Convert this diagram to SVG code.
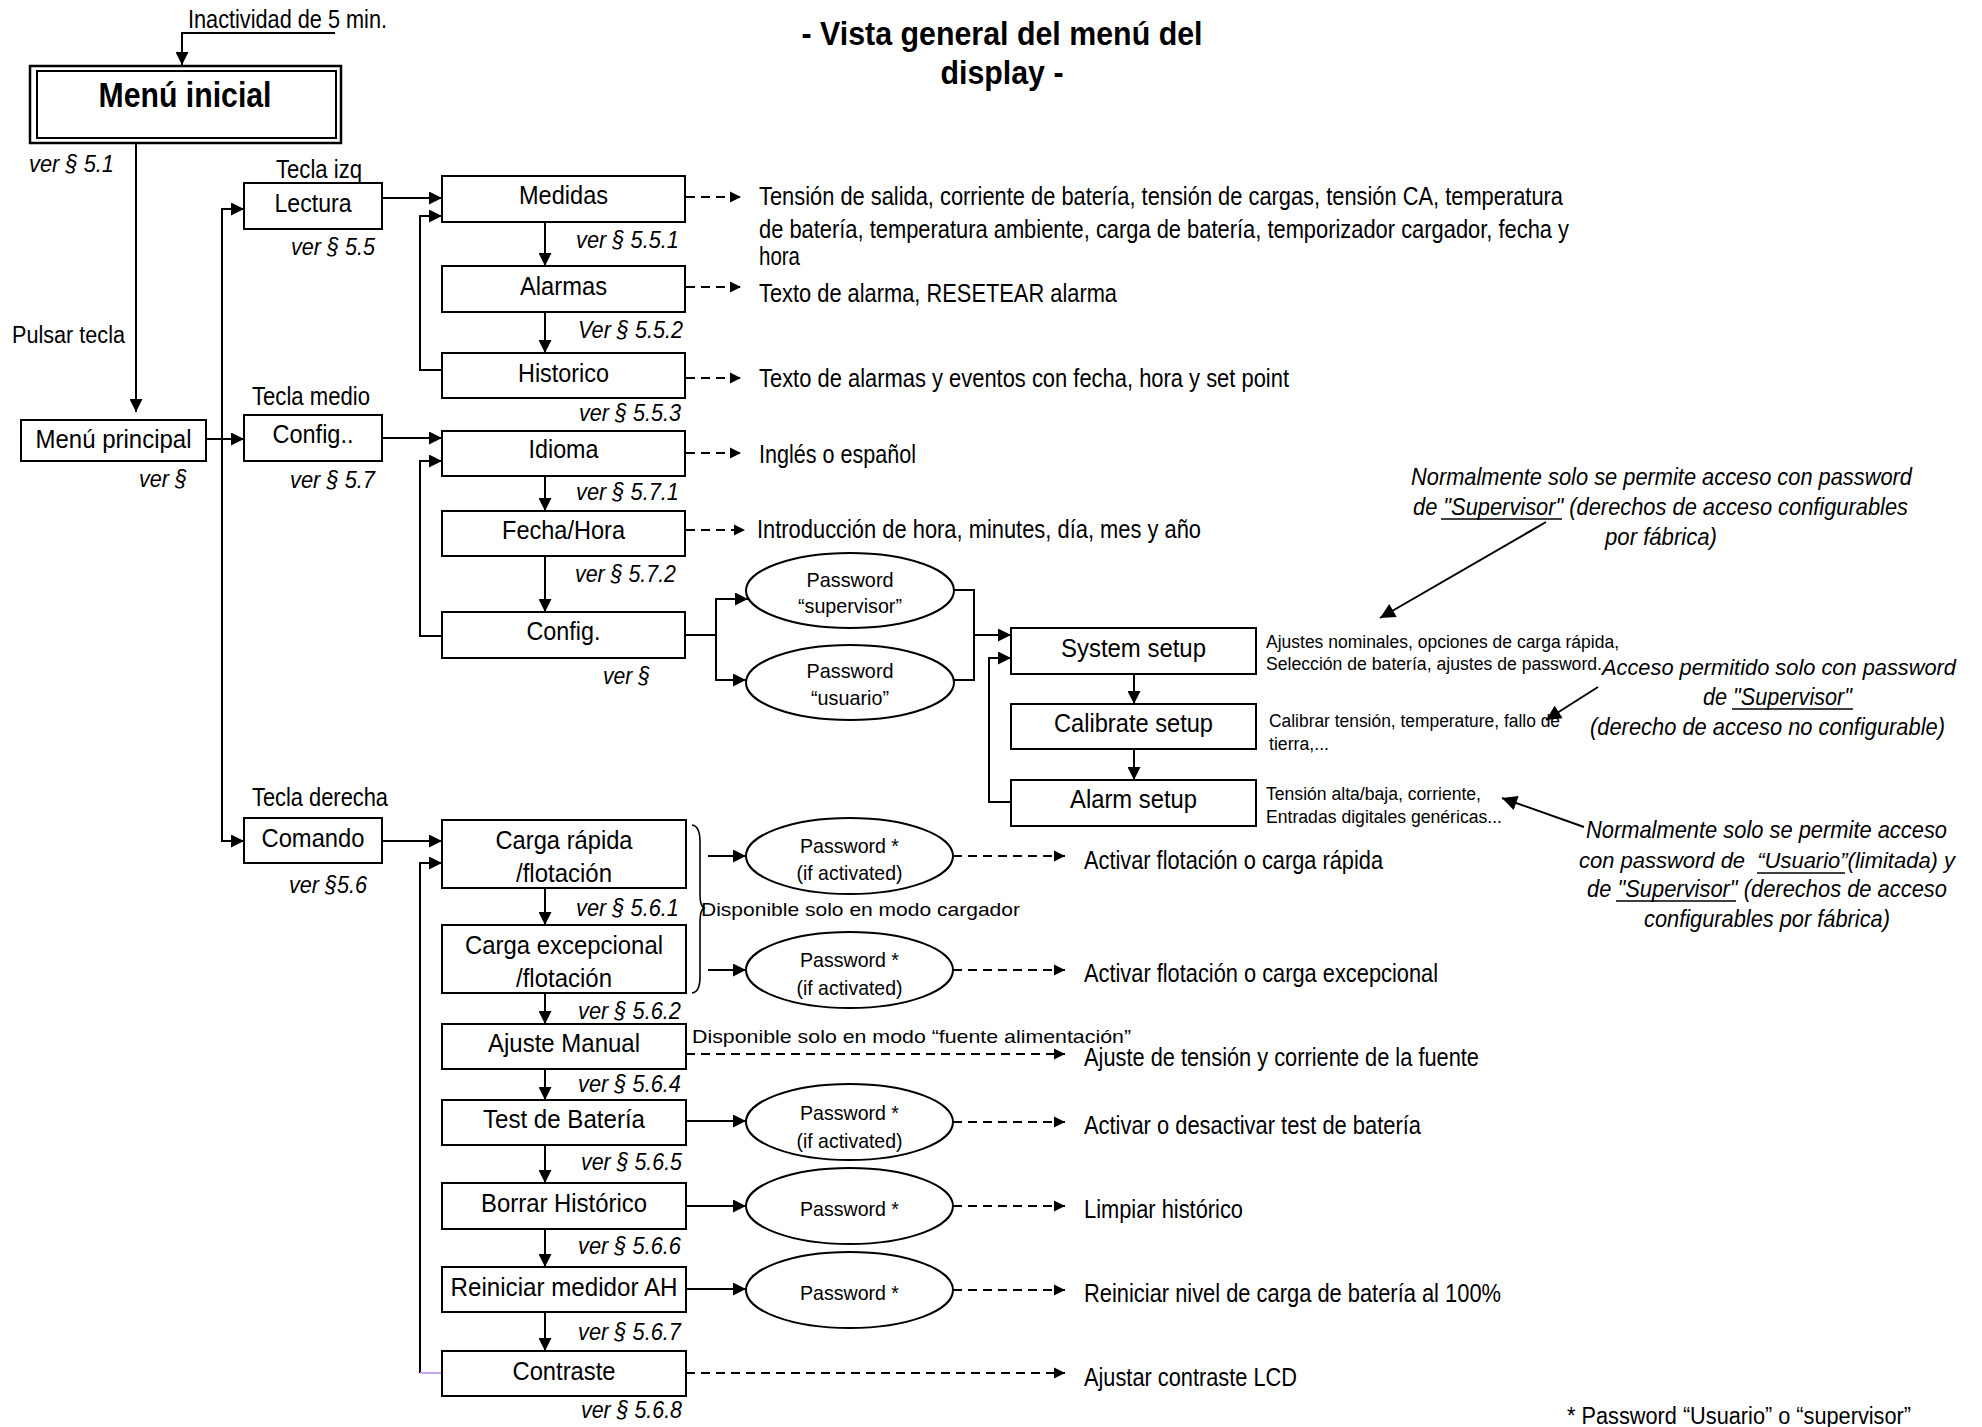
<svg xmlns="http://www.w3.org/2000/svg" width="1982" height="1427" viewBox="0 0 1982 1427">
<style>
.bx{fill:#fff;stroke:#000;stroke-width:2}
.el{fill:#fff;stroke:#000;stroke-width:2}
.ln{fill:none;stroke:#000;stroke-width:2}
.th{fill:none;stroke:#000;stroke-width:1.6}
.ds{fill:none;stroke:#000;stroke-width:2;stroke-dasharray:9 6}
text{font-family:"Liberation Sans",Arial,sans-serif;fill:#000}
.m{text-anchor:middle}
.i{font-style:italic}
.f26{font-size:26px}
.f25{font-size:25px}
.f23{font-size:23px}
.f21{font-size:21px}
.f19{font-size:19px}
.f18{font-size:18px}
.n{font-size:24px;font-style:italic}
.ns{font-size:22.5px;font-style:italic}
</style>
<defs>
<marker id="a" viewBox="0 0 12 12" refX="12" refY="6" markerWidth="13" markerHeight="13" markerUnits="userSpaceOnUse" orient="auto"><path d="M0,0 L12,6 L0,12 z" fill="#000"/></marker>
<marker id="s" viewBox="0 0 12 12" refX="12" refY="6" markerWidth="11" markerHeight="12" markerUnits="userSpaceOnUse" orient="auto"><path d="M0,0 L12,6 L0,12 z" fill="#000"/></marker>
<marker id="p" viewBox="0 0 12 12" refX="12" refY="6" markerWidth="18" markerHeight="15" markerUnits="userSpaceOnUse" orient="auto"><path d="M0,0 L12,6 L0,12 z" fill="#000"/></marker>
</defs>
<rect width="1982" height="1427" fill="#fff"/>

<g id="title">
<text class="m" x="1002" y="45" style="font-size:34px;font-weight:bold" textLength="401" lengthAdjust="spacingAndGlyphs">- Vista general del menú del</text>
<text class="m" x="1002" y="84" style="font-size:34px;font-weight:bold" textLength="123" lengthAdjust="spacingAndGlyphs">display -</text>
</g>

<g id="connectors">
<path class="ln" d="M335,33 H182 V65" marker-end="url(#a)"/>
<path class="ln" d="M136,143 V412" marker-end="url(#a)"/>
<path class="ln" d="M206,439 H244" marker-end="url(#a)"/>
<path class="ln" d="M244,209 H222 V841 H244" marker-end="url(#a)"/>
<path class="ln" d="M222,209 H244" marker-end="url(#a)"/>
<path class="ln" d="M382,198 H442" marker-end="url(#a)"/>
<path class="ln" d="M382,438 H442" marker-end="url(#a)"/>
<path class="ln" d="M382,841 H442" marker-end="url(#a)"/>
<path class="ln" d="M442,370 H420 V216 H442" marker-end="url(#a)"/>
<path class="ln" d="M442,636 H420 V461 H442" marker-end="url(#a)"/>
<path class="ln" d="M420,1373 V863 H442" marker-end="url(#a)"/>
<path fill="none" stroke="#c7a6f2" stroke-width="2" d="M420,1373 H442"/>
<path class="ln" d="M545,222 V266" marker-end="url(#a)"/>
<path class="ln" d="M545,312 V353" marker-end="url(#a)"/>
<path class="ln" d="M545,476 V511" marker-end="url(#a)"/>
<path class="ln" d="M545,556 V612" marker-end="url(#a)"/>
<path class="ln" d="M545,888 V925" marker-end="url(#a)"/>
<path class="ln" d="M545,993 V1024" marker-end="url(#a)"/>
<path class="ln" d="M545,1069 V1100" marker-end="url(#a)"/>
<path class="ln" d="M545,1145 V1183" marker-end="url(#a)"/>
<path class="ln" d="M545,1229 V1267" marker-end="url(#a)"/>
<path class="ln" d="M545,1312 V1351" marker-end="url(#a)"/>
<path class="ds" d="M686,197 H741" marker-end="url(#s)"/>
<path class="ds" d="M686,287 H741" marker-end="url(#s)"/>
<path class="ds" d="M686,378 H741" marker-end="url(#s)"/>
<path class="ds" d="M686,453 H741" marker-end="url(#s)"/>
<path class="ds" d="M686,530 H745" marker-end="url(#s)"/>
<path class="ln" d="M685,635 H716 V599 H748" marker-end="url(#a)"/>
<path class="ln" d="M716,635 V680 H746" marker-end="url(#a)"/>
<path class="ln" d="M953,590 H974 V680 H953"/>
<path class="ln" d="M974,635 H1011" marker-end="url(#a)"/>
<path class="ln" d="M1011,802 H989 V658 H1011" marker-end="url(#a)"/>
<path class="ln" d="M1134,674 V704" marker-end="url(#a)"/>
<path class="ln" d="M1134,749 V780" marker-end="url(#a)"/>
<path class="th" d="M692,825 Q700,826 700,842 V894 Q700,906 704,908 Q700,910 700,922 V977 Q700,992 692,993"/>
<path class="ln" d="M708,856 H746" marker-end="url(#a)"/>
<path class="ln" d="M708,970 H746" marker-end="url(#a)"/>
<path class="ln" d="M686,1121 H746" marker-end="url(#a)"/>
<path class="ln" d="M686,1206 H746" marker-end="url(#a)"/>
<path class="ln" d="M686,1289 H746" marker-end="url(#a)"/>
<path class="ds" d="M953,856 H1065" marker-end="url(#s)"/>
<path class="ds" d="M953,970 H1065" marker-end="url(#s)"/>
<path class="ds" d="M686,1054 H1065" marker-end="url(#s)"/>
<path class="ds" d="M953,1122 H1065" marker-end="url(#s)"/>
<path class="ds" d="M953,1206 H1065" marker-end="url(#s)"/>
<path class="ds" d="M953,1290 H1065" marker-end="url(#s)"/>
<path class="ds" d="M686,1373 H1065" marker-end="url(#s)"/>
<path class="ln" d="M1546,522 L1380,618" marker-end="url(#p)"/>
<path class="ln" d="M1598,687 L1546,720" marker-end="url(#p)"/>
<path class="ln" d="M1584,827 L1502,798" marker-end="url(#p)"/>
</g>

<g id="inactividad"><text class="f25" x="188" y="28" textLength="199" lengthAdjust="spacingAndGlyphs">Inactividad de 5 min.</text></g>

<g id="menu-inicial">
<rect x="30" y="66" width="311" height="77" fill="#fff" stroke="#000" stroke-width="2.5"/>
<rect x="37" y="71" width="299" height="67" fill="none" stroke="#000" stroke-width="2"/>
<text class="m" x="185" y="107" style="font-size:35px;font-weight:bold" textLength="173" lengthAdjust="spacingAndGlyphs">Menú inicial</text>
<text class="i f23" x="29" y="172" textLength="85" lengthAdjust="spacingAndGlyphs">ver § 5.1</text>
</g>
<g id="pulsar"><text class="f23" x="12" y="343" textLength="113" lengthAdjust="spacingAndGlyphs">Pulsar tecla</text></g>

<g id="menu-principal">
<rect class="bx" x="21" y="420" width="185" height="41"/>
<text class="m f26" x="113.5" y="448" textLength="156" lengthAdjust="spacingAndGlyphs">Menú principal</text>
<text class="i f23" x="139" y="487" textLength="48" lengthAdjust="spacingAndGlyphs">ver §</text>
</g>

<g id="lectura">
<text class="f26" x="276" y="178" textLength="86" lengthAdjust="spacingAndGlyphs">Tecla izq</text>
<rect class="bx" x="244" y="183" width="138" height="46"/>
<text class="m f26" x="313" y="212" textLength="77" lengthAdjust="spacingAndGlyphs">Lectura</text>
<text class="i f23" x="291" y="255" textLength="84" lengthAdjust="spacingAndGlyphs">ver § 5.5</text>
</g>
<g id="config-menu">
<text class="f26" x="252" y="405" textLength="118" lengthAdjust="spacingAndGlyphs">Tecla medio</text>
<rect class="bx" x="244" y="415" width="138" height="46"/>
<text class="m f26" x="313" y="443" textLength="81" lengthAdjust="spacingAndGlyphs">Config..</text>
<text class="i f23" x="290" y="488" textLength="85" lengthAdjust="spacingAndGlyphs">ver § 5.7</text>
</g>
<g id="comando">
<text class="f26" x="252" y="806" textLength="136" lengthAdjust="spacingAndGlyphs">Tecla derecha</text>
<rect class="bx" x="244" y="818" width="138" height="45"/>
<text class="m f26" x="313" y="847" textLength="103" lengthAdjust="spacingAndGlyphs">Comando</text>
<text class="i f23" x="289" y="893" textLength="78" lengthAdjust="spacingAndGlyphs">ver §5.6</text>
</g>

<g id="medidas">
<rect class="bx" x="442" y="176" width="243" height="46"/>
<text class="m f26" x="563.5" y="204" textLength="89" lengthAdjust="spacingAndGlyphs">Medidas</text>
<text class="i f23" x="576" y="248" textLength="103" lengthAdjust="spacingAndGlyphs">ver § 5.5.1</text>
<text class="f25" x="759" y="205" textLength="804" lengthAdjust="spacingAndGlyphs">Tensión de salida, corriente de batería, tensión de cargas, tensión CA, temperatura</text>
<text class="f25" x="759" y="238" textLength="810" lengthAdjust="spacingAndGlyphs">de batería, temperatura ambiente, carga de batería, temporizador cargador, fecha y</text>
<text class="f25" x="759" y="265" textLength="41" lengthAdjust="spacingAndGlyphs">hora</text>
</g>
<g id="alarmas">
<rect class="bx" x="442" y="266" width="243" height="46"/>
<text class="m f26" x="563.5" y="295" textLength="87" lengthAdjust="spacingAndGlyphs">Alarmas</text>
<text class="i f23" x="578" y="338" textLength="105" lengthAdjust="spacingAndGlyphs">Ver § 5.5.2</text>
<text class="f25" x="759" y="302" textLength="358" lengthAdjust="spacingAndGlyphs">Texto de alarma, RESETEAR alarma</text>
</g>
<g id="historico">
<rect class="bx" x="442" y="353" width="243" height="45"/>
<text class="m f26" x="563.5" y="382" textLength="91" lengthAdjust="spacingAndGlyphs">Historico</text>
<text class="i f23" x="579" y="421" textLength="102" lengthAdjust="spacingAndGlyphs">ver § 5.5.3</text>
<text class="f25" x="759" y="387" textLength="530" lengthAdjust="spacingAndGlyphs">Texto de alarmas y eventos con fecha, hora y set point</text>
</g>
<g id="idioma">
<rect class="bx" x="442" y="431" width="243" height="45"/>
<text class="m f26" x="563.5" y="458" textLength="70" lengthAdjust="spacingAndGlyphs">Idioma</text>
<text class="i f23" x="576" y="500" textLength="103" lengthAdjust="spacingAndGlyphs">ver § 5.7.1</text>
<text class="f25" x="759" y="463" textLength="157" lengthAdjust="spacingAndGlyphs">Inglés o español</text>
</g>
<g id="fecha-hora">
<rect class="bx" x="442" y="511" width="243" height="45"/>
<text class="m f26" x="563.5" y="539" textLength="123" lengthAdjust="spacingAndGlyphs">Fecha/Hora</text>
<text class="i f23" x="575" y="582" textLength="101" lengthAdjust="spacingAndGlyphs">ver § 5.7.2</text>
<text class="f25" x="757" y="538" textLength="444" lengthAdjust="spacingAndGlyphs">Introducción de hora, minutes, día, mes y año</text>
</g>
<g id="config">
<rect class="bx" x="442" y="612" width="243" height="46"/>
<text class="m f26" x="563.5" y="640" textLength="74" lengthAdjust="spacingAndGlyphs">Config.</text>
<text class="i f23" x="603" y="684" textLength="47" lengthAdjust="spacingAndGlyphs">ver §</text>
</g>

<g id="pw-supervisor">
<ellipse class="el" cx="850" cy="590.5" rx="104" ry="37.5"/>
<text class="m f21" x="850" y="587" textLength="87" lengthAdjust="spacingAndGlyphs">Password</text>
<text class="m f21" x="850" y="613" textLength="104" lengthAdjust="spacingAndGlyphs">“supervisor”</text>
</g>
<g id="pw-usuario">
<ellipse class="el" cx="850" cy="682.5" rx="104" ry="37.5"/>
<text class="m f21" x="850" y="678" textLength="87" lengthAdjust="spacingAndGlyphs">Password</text>
<text class="m f21" x="850" y="705" textLength="78" lengthAdjust="spacingAndGlyphs">“usuario”</text>
</g>

<g id="system-setup">
<rect class="bx" x="1011" y="628" width="245" height="46"/>
<text class="m f26" x="1133.5" y="657" textLength="145" lengthAdjust="spacingAndGlyphs">System setup</text>
<text class="f18" x="1266" y="648" textLength="353" lengthAdjust="spacingAndGlyphs">Ajustes nominales, opciones de carga rápida,</text>
<text class="f18" x="1266" y="670" textLength="336" lengthAdjust="spacingAndGlyphs">Selección de batería, ajustes de password.</text>
</g>
<g id="calibrate-setup">
<rect class="bx" x="1011" y="704" width="245" height="45"/>
<text class="m f26" x="1133.5" y="732" textLength="159" lengthAdjust="spacingAndGlyphs">Calibrate setup</text>
<text class="f18" x="1269" y="727" textLength="291" lengthAdjust="spacingAndGlyphs">Calibrar tensión, temperature, fallo de</text>
<text class="f18" x="1269" y="750" textLength="60" lengthAdjust="spacingAndGlyphs">tierra,...</text>
</g>
<g id="alarm-setup">
<rect class="bx" x="1011" y="780" width="245" height="46"/>
<text class="m f26" x="1133.5" y="808" textLength="127" lengthAdjust="spacingAndGlyphs">Alarm setup</text>
<text class="f18" x="1266" y="800" textLength="215" lengthAdjust="spacingAndGlyphs">Tensión alta/baja, corriente,</text>
<text class="f18" x="1266" y="823" textLength="236" lengthAdjust="spacingAndGlyphs">Entradas digitales genéricas...</text>
</g>

<g id="note-supervisor">
<text class="n" x="1411" y="485" textLength="501" lengthAdjust="spacingAndGlyphs">Normalmente solo se permite acceso con password</text>
<text class="n" x="1413" y="515" textLength="495" lengthAdjust="spacingAndGlyphs">de "Supervisor" (derechos de acceso configurables</text>
<text class="n" x="1605" y="545" textLength="112" lengthAdjust="spacingAndGlyphs">por fábrica)</text>
<path class="th" d="M1441,519 H1562"/>
</g>
<g id="note-calibrate">
<text class="ns" x="1602" y="675" textLength="354" lengthAdjust="spacingAndGlyphs">Acceso permitido solo con password</text>
<text class="n" x="1703" y="705" textLength="149" lengthAdjust="spacingAndGlyphs">de "Supervisor"</text>
<text class="n" x="1590" y="735" textLength="355" lengthAdjust="spacingAndGlyphs">(derecho de acceso no configurable)</text>
<path class="th" d="M1732,709 H1853"/>
</g>
<g id="note-alarm">
<text class="n" x="1586" y="838" textLength="361" lengthAdjust="spacingAndGlyphs">Normalmente solo se permite acceso</text>
<text class="ns" x="1579" y="868" textLength="376" lengthAdjust="spacingAndGlyphs">con password de &#160;“Usuario”(limitada) y</text>
<text class="n" x="1587" y="897" textLength="360" lengthAdjust="spacingAndGlyphs">de "Supervisor" (derechos de acceso</text>
<text class="n" x="1644" y="927" textLength="246" lengthAdjust="spacingAndGlyphs">configurables por fábrica)</text>
<path class="th" d="M1757,873 H1845 M1616,901 H1736"/>
</g>

<g id="carga-rapida">
<rect class="bx" x="442" y="820" width="244" height="68"/>
<text class="m f26" x="564" y="849" textLength="137" lengthAdjust="spacingAndGlyphs">Carga rápida</text>
<text class="m f26" x="564" y="882" textLength="96" lengthAdjust="spacingAndGlyphs">/flotación</text>
<text class="i f23" x="576" y="916" textLength="103" lengthAdjust="spacingAndGlyphs">ver § 5.6.1</text>
</g>
<g id="carga-excepcional">
<rect class="bx" x="442" y="925" width="244" height="68"/>
<text class="m f26" x="564" y="954" textLength="198" lengthAdjust="spacingAndGlyphs">Carga excepcional</text>
<text class="m f26" x="564" y="987" textLength="96" lengthAdjust="spacingAndGlyphs">/flotación</text>
<text class="i f23" x="578" y="1019" textLength="103" lengthAdjust="spacingAndGlyphs">ver § 5.6.2</text>
</g>
<g id="modo-cargador"><text class="f19" x="701" y="916" textLength="319" lengthAdjust="spacingAndGlyphs">Disponible solo en modo cargador</text></g>
<g id="pw-carga-rapida">
<ellipse class="el" cx="849.5" cy="856" rx="103.5" ry="38"/>
<text class="m f21" x="849.5" y="853" textLength="99" lengthAdjust="spacingAndGlyphs">Password *</text>
<text class="m f21" x="849.5" y="880" textLength="106" lengthAdjust="spacingAndGlyphs">(if activated)</text>
</g>
<g id="pw-carga-excepcional">
<ellipse class="el" cx="849.5" cy="970" rx="103.5" ry="38"/>
<text class="m f21" x="849.5" y="967" textLength="99" lengthAdjust="spacingAndGlyphs">Password *</text>
<text class="m f21" x="849.5" y="995" textLength="106" lengthAdjust="spacingAndGlyphs">(if activated)</text>
</g>
<g id="res-carga-rapida"><text class="f25" x="1084" y="869" textLength="299" lengthAdjust="spacingAndGlyphs">Activar flotación o carga rápida</text></g>
<g id="res-carga-excepcional"><text class="f25" x="1084" y="982" textLength="354" lengthAdjust="spacingAndGlyphs">Activar flotación o carga excepcional</text></g>

<g id="ajuste-manual">
<rect class="bx" x="442" y="1024" width="244" height="45"/>
<text class="m f26" x="564" y="1052" textLength="152" lengthAdjust="spacingAndGlyphs">Ajuste Manual</text>
<text class="i f23" x="578" y="1092" textLength="103" lengthAdjust="spacingAndGlyphs">ver § 5.6.4</text>
<text class="f19" x="692" y="1043" textLength="439" lengthAdjust="spacingAndGlyphs">Disponible solo en modo “fuente alimentación”</text>
</g>
<g id="res-ajuste"><text class="f25" x="1084" y="1066" textLength="395" lengthAdjust="spacingAndGlyphs">Ajuste de tensión y corriente de la fuente</text></g>

<g id="test-bateria">
<rect class="bx" x="442" y="1100" width="244" height="45"/>
<text class="m f26" x="564" y="1128" textLength="162" lengthAdjust="spacingAndGlyphs">Test de Batería</text>
<text class="i f23" x="581" y="1170" textLength="101" lengthAdjust="spacingAndGlyphs">ver § 5.6.5</text>
</g>
<g id="pw-test">
<ellipse class="el" cx="849.5" cy="1122" rx="103.5" ry="38"/>
<text class="m f21" x="849.5" y="1120" textLength="99" lengthAdjust="spacingAndGlyphs">Password *</text>
<text class="m f21" x="849.5" y="1148" textLength="106" lengthAdjust="spacingAndGlyphs">(if activated)</text>
</g>
<g id="res-test"><text class="f25" x="1084" y="1134" textLength="337" lengthAdjust="spacingAndGlyphs">Activar o desactivar test de batería</text></g>

<g id="borrar-historico">
<rect class="bx" x="442" y="1183" width="244" height="46"/>
<text class="m f26" x="564" y="1212" textLength="166" lengthAdjust="spacingAndGlyphs">Borrar Histórico</text>
<text class="i f23" x="578" y="1254" textLength="103" lengthAdjust="spacingAndGlyphs">ver § 5.6.6</text>
</g>
<g id="pw-borrar">
<ellipse class="el" cx="849.5" cy="1206" rx="103.5" ry="38"/>
<text class="m f21" x="849.5" y="1216" textLength="99" lengthAdjust="spacingAndGlyphs">Password *</text>
</g>
<g id="res-borrar"><text class="f25" x="1084" y="1218" textLength="159" lengthAdjust="spacingAndGlyphs">Limpiar histórico</text></g>

<g id="reiniciar-ah">
<rect class="bx" x="442" y="1267" width="244" height="45"/>
<text class="m f26" x="564" y="1296" textLength="227" lengthAdjust="spacingAndGlyphs">Reiniciar medidor AH</text>
<text class="i f23" x="578" y="1340" textLength="103" lengthAdjust="spacingAndGlyphs">ver § 5.6.7</text>
</g>
<g id="pw-reiniciar">
<ellipse class="el" cx="849.5" cy="1290" rx="103.5" ry="38"/>
<text class="m f21" x="849.5" y="1300" textLength="99" lengthAdjust="spacingAndGlyphs">Password *</text>
</g>
<g id="res-reiniciar"><text class="f25" x="1084" y="1302" textLength="417" lengthAdjust="spacingAndGlyphs">Reiniciar nivel de carga de batería al 100%</text></g>

<g id="contraste">
<rect class="bx" x="442" y="1351" width="244" height="45"/>
<text class="m f26" x="564" y="1380" textLength="103" lengthAdjust="spacingAndGlyphs">Contraste</text>
<text class="i f23" x="581" y="1418" textLength="101" lengthAdjust="spacingAndGlyphs">ver § 5.6.8</text>
</g>
<g id="res-contraste"><text class="f25" x="1084" y="1386" textLength="213" lengthAdjust="spacingAndGlyphs">Ajustar contraste LCD</text></g>

<g id="footnote"><text class="f23" x="1567" y="1424" textLength="344" lengthAdjust="spacingAndGlyphs">* Password “Usuario” o “supervisor”</text></g>
</svg>
